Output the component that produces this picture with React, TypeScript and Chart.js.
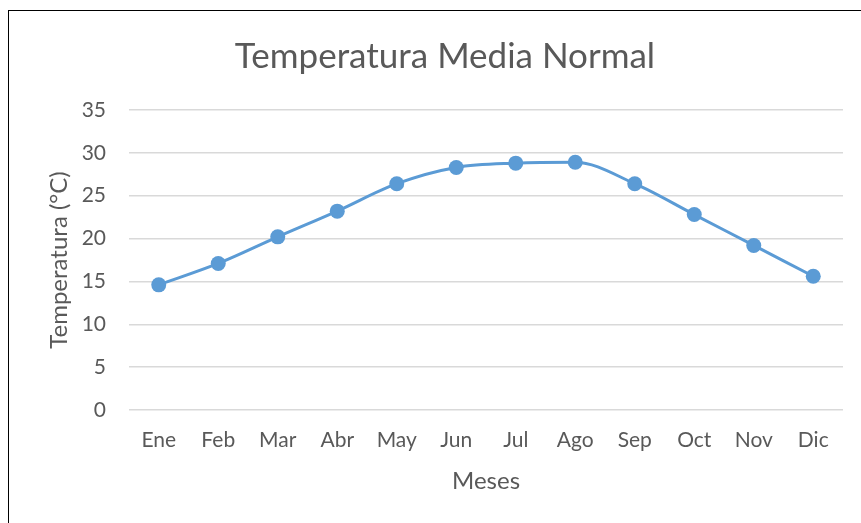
import React, { useEffect, useRef } from "react";
import { Chart, registerables } from "chart.js";

Chart.register(...registerables);

const months = ["Ene", "Feb", "Mar", "Abr", "May", "Jun", "Jul", "Ago", "Sep", "Oct", "Nov", "Dic"];
const temps = [14.6, 17.1, 20.2, 23.2, 26.4, 28.3, 28.8, 28.9, 26.4, 22.8, 19.2, 15.6];
const titleText = "Temperatura Media Normal";
const yTitle = "Temperatura (°C)";
const xTitle = "Meses";

const FONT = "Lato, 'Open Sans', sans-serif";
const TEXT = "#595959";

export default function App() {
  const ref = useRef<HTMLCanvasElement | null>(null);
  useEffect(() => {
    if (!ref.current) return;
    const chart = new Chart(ref.current, {
      type: "line",
      data: {
        labels: months,
        datasets: [
          {
            data: temps,
            borderColor: "#5B9BD5",
            backgroundColor: "#5B9BD5",
            borderWidth: 3,
            pointRadius: 7.5,
            pointHoverRadius: 7.5,
            pointBorderWidth: 0,
            cubicInterpolationMode: "monotone",
            fill: false,
          },
        ],
      },
      options: {
        animation: false,
        responsive: false,
        maintainAspectRatio: false,
        layout: { padding: { left: 47, right: 18, top: 36, bottom: 30 } },
        plugins: {
          legend: { display: false },
          tooltip: { enabled: false },
          title: {
            display: true,
            text: titleText,
            color: TEXT,
            font: { family: FONT, size: 35, weight: "normal" },
            padding: { top: 0, bottom: 32 },
          },
        },
        scales: {
          x: {
            offset: true,
            afterFit: (s: any) => {
              s.height = 83;
            },
            grid: { display: false, drawTicks: false },
            border: { display: false },
            ticks: { color: TEXT, font: { family: FONT, size: 21 }, padding: 18, maxRotation: 0 },
            title: {
              display: true,
              text: xTitle,
              color: TEXT,
              font: { family: FONT, size: 24, lineHeight: 1 },
              padding: { top: 0, bottom: 0 },
            },
          },
          y: {
            min: 0,
            max: 35,
            afterFit: (s: any) => {
              s.width = 82;
            },
            ticks: { stepSize: 5, color: TEXT, font: { family: FONT, size: 21 }, padding: 23 },
            grid: { color: "#D9D9D9", lineWidth: 1.5, drawTicks: false },
            border: { display: false },
            title: {
              display: true,
              text: yTitle,
              color: TEXT,
              font: { family: FONT, size: 24, lineHeight: 1 },
              padding: { top: 0, bottom: 0 },
            },
          },
        },
      },
    });
    return () => chart.destroy();
  }, []);
  return (
    <div style={{ position: "fixed", left: 0, top: 0, width: 861, height: 523, overflow: "hidden", background: "#fff" }}>
      <canvas ref={ref} width={861} height={523} style={{ position: "absolute", left: 0, top: 0 }} />
      <div
        style={{
          position: "absolute",
          left: 8,
          top: 10,
          width: 900,
          height: 600,
          borderLeft: "1.5px solid #000",
          borderTop: "1.5px solid #000",
          pointerEvents: "none",
        }}
      />
    </div>
  );
}
